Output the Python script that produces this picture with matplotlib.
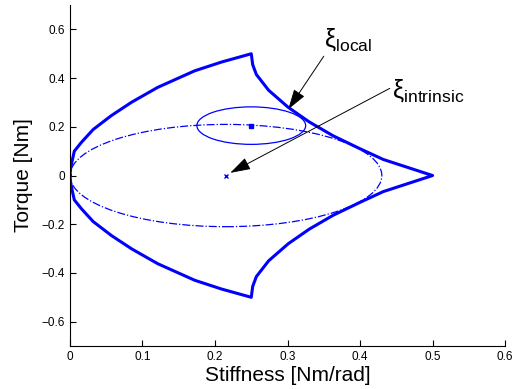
#!/usr/bin/env python

import matplotlib
matplotlib.use('Agg')
import matplotlib.pyplot as plt
from matplotlib.patches import Ellipse

# Fonts
plt.rcParams['font.family'] = ['Liberation Sans', 'DejaVu Sans']
plt.rcParams['mathtext.fontset'] = 'custom'
plt.rcParams['mathtext.rm'] = 'Liberation Sans'
plt.rcParams['mathtext.it'] = 'Liberation Sans:italic'

# Outline of the feasible region, going round once
outline_x = [0.0, 0.001, 0.003, 0.006, 0.016, 0.032, 0.057, 0.085, 0.121, 0.172, 0.209, 0.25,
             0.252, 0.257, 0.274, 0.301, 0.33, 0.363, 0.40, 0.432, 0.5,
             0.432, 0.40, 0.363, 0.33, 0.301, 0.274, 0.257, 0.252,
             0.25, 0.209, 0.172, 0.121, 0.085, 0.057, 0.032, 0.016, 0.006, 0.003, 0.001, 0.0]
outline_y = [0.0, 0.03, 0.06, 0.10, 0.137, 0.189, 0.246, 0.301, 0.362, 0.430, 0.466, 0.5,
             0.455, 0.415, 0.35, 0.28, 0.22, 0.163, 0.11, 0.066, 0.0,
             -0.066, -0.11, -0.163, -0.22, -0.28, -0.35, -0.415, -0.455,
             -0.5, -0.466, -0.430, -0.362, -0.301, -0.246, -0.189, -0.137, -0.10, -0.06, -0.03, 0.0]

# Ellipses: (centre x, centre y, half width, half height)
intrinsic_centre = (0.215, 0.0)
intrinsic_radii = (0.215, 0.21)
local_centre = (0.25, 0.205)
local_radii = (0.075, 0.077)

# Annotation texts and positions (text anchor, arrow tail, arrow head)
local_label = r'ξ$_{\mathrm{local}}$'
local_text_xy = (0.350, 0.56)
local_tail = (0.350, 0.49)
local_head = (0.301, 0.272)
intrinsic_label = r'ξ$_{\mathrm{intrinsic}}$'
intrinsic_text_xy = (0.4435, 0.348)
intrinsic_tail = (0.441, 0.358)
intrinsic_head = (0.221, 0.011)

x_ticks = [0, 0.1, 0.2, 0.3, 0.4, 0.5, 0.6]
y_ticks = [-0.6, -0.4, -0.2, 0, 0.2, 0.4, 0.6]

BLUE = (0, 0, 1)

fig = plt.figure(figsize=(5.30, 3.89), dpi=100)
ax = fig.add_axes([0.132, 0.1105, 0.821, 0.8765])

ax.plot(outline_x, outline_y, color=BLUE, linewidth=2.2)

ax.add_patch(Ellipse(intrinsic_centre, 2 * intrinsic_radii[0], 2 * intrinsic_radii[1],
                     fill=False, edgecolor=BLUE, linewidth=0.9, linestyle='-.'))
ax.add_patch(Ellipse(local_centre, 2 * local_radii[0], 2 * local_radii[1],
                     fill=False, edgecolor=BLUE, linewidth=0.9, linestyle='-'))

ax.plot(*intrinsic_centre, marker='x', color=BLUE, markersize=3, mew=1)
ax.plot(*local_centre, marker='s', color=BLUE, markersize=2.5)

arrow = dict(arrowstyle='-|>,head_length=0.9,head_width=0.28', color='black',
             linewidth=0.7, mutation_scale=14, shrinkA=0, shrinkB=0)
ax.annotate('', xy=local_head, xytext=local_tail, arrowprops=arrow)
ax.annotate('', xy=intrinsic_head, xytext=intrinsic_tail, arrowprops=arrow)
ax.text(*local_text_xy, local_label, fontsize=18, ha='left', va='center')
ax.text(*intrinsic_text_xy, intrinsic_label, fontsize=18, ha='left', va='center')

ax.set_xlim(0, 0.6)
ax.set_ylim(-0.7, 0.7)
ax.set_xticks(x_ticks)
ax.set_yticks(y_ticks)
ax.set_xticklabels(['0', '0.1', '0.2', '0.3', '0.4', '0.5', '0.6'])
ax.set_yticklabels(['\u22120.6', '\u22120.4', '\u22120.2', '0', '0.2', '0.4', '0.6'])
ax.tick_params(direction='in', length=4, width=0.8, labelsize=8.5, colors='black')
for side in ['top', 'right']:
    ax.spines[side].set_visible(False)
for side in ['left', 'bottom']:
    ax.spines[side].set_linewidth(0.8)

ax.set_xlabel('Stiffness [Nm/rad]', fontsize=15, labelpad=2)
ax.set_ylabel('Torque [Nm]', fontsize=15, labelpad=6)

plt.savefig('out.png', dpi=100)
